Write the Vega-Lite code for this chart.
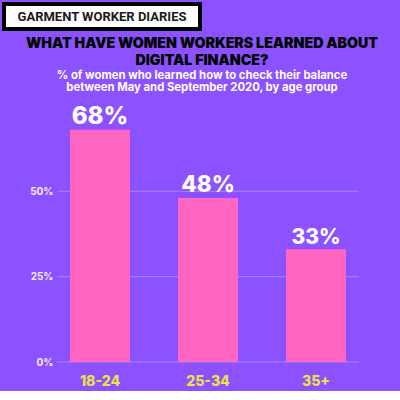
{
  "$schema": "https://vega.github.io/schema/vega-lite/v6.json",
  "background": "#8c52ff",
  "padding": {"left": 2, "top": 2, "right": 42, "bottom": 3},
  "autosize": {"type": "pad"},
  "spacing": 6,
  "config": {
    "view": {"stroke": null},
    "font": "Inter"
  },
  "vconcat": [
    {
      "width": 196,
      "height": 25,
      "view": {"fill": "white", "stroke": "black", "strokeWidth": 4},
      "data": {"values": [{"label": "GARMENT WORKER DIARIES"}]},
      "mark": {"type": "text", "font": "Roboto", "fontWeight": "bold", "fontSize": 13, "letterSpacing": 0.7, "color": "#1a1a1a", "baseline": "middle", "align": "center"},
      "encoding": {"text": {"field": "label"}}
    },
    {
      "width": 356,
      "height": 239,
      "title": {
        "text": ["WHAT HAVE WOMEN WORKERS LEARNED ABOUT", "DIGITAL FINANCE?"],
        "subtitle": ["% of women who learned how to check their balance", "between May and September 2020, by age group"],
        "font": "Inter",
        "fontSize": 14.2,
        "fontWeight": 900,
        "color": "#000000",
        "lineHeight": 17,
        "subtitleFont": "Inter",
        "subtitleFontSize": 11.3,
        "subtitleFontWeight": 700,
        "subtitleColor": "#ffffff",
        "subtitleLineHeight": 12,
        "subtitlePadding": 1,
        "anchor": "middle",
        "frame": "group",
        "dx": 20,
        "offset": 12
      },
      "data": {"values": [
        {"age": "18-24", "share": 0.68},
        {"age": "25-34", "share": 0.48},
        {"age": "35+", "share": 0.33}
      ]},
      "layer": [
        {
          "data": {"values": [{"g": 0}, {"g": 0.25}, {"g": 0.5}]},
          "mark": {"type": "rule", "color": "#a585ff", "strokeWidth": 1},
          "encoding": {
            "x": {"datum": "18-24", "bandPosition": -0.2167, "type": "nominal"},
            "x2": {"datum": "35+", "bandPosition": 1.2167},
            "y": {"field": "g", "type": "quantitative"}
          }
        },
        {
          "mark": {"type": "bar", "color": "#ff66c4"},
          "encoding": {
            "x": {
              "field": "age", "type": "nominal", "sort": null,
              "scale": {"domain": ["18-24", "25-34", "35+"], "paddingInner": 0.4444, "paddingOuter": 0.3704, "align": 0.825},
              "axis": {"title": null, "labelAngle": 0, "labelAlign": "center", "bandPosition": 0.5, "domain": false, "ticks": false, "labelPadding": 19, "labelFont": "Inter", "labelFontSize": 14, "labelFontWeight": 800, "labelColor": "#eee342"}
            },
            "y": {
              "field": "share", "type": "quantitative",
              "scale": {"domain": [0, 0.7]},
              "axis": {"title": null, "values": [0, 0.25, 0.5], "format": ".0%", "domain": false, "ticks": false, "grid": false, "offset": -54, "labelPadding": 5, "labelFont": "Inter", "labelFontSize": 10, "labelFontWeight": 700, "labelColor": "#f3ecff"}
            }
          }
        },
        {
          "mark": {"type": "text", "baseline": "bottom", "dy": -1, "font": "Inter", "fontWeight": 800, "color": "#ffffff"},
          "encoding": {
            "x": {"field": "age", "type": "nominal", "sort": null},
            "y": {"field": "share", "type": "quantitative"},
            "text": {"field": "share", "type": "quantitative", "format": ".0%"},
            "size": {"field": "age", "type": "ordinal", "sort": null, "scale": {"range": [24, 21, 17]}, "legend": null}
          }
        }
      ]
    }
  ]
}
